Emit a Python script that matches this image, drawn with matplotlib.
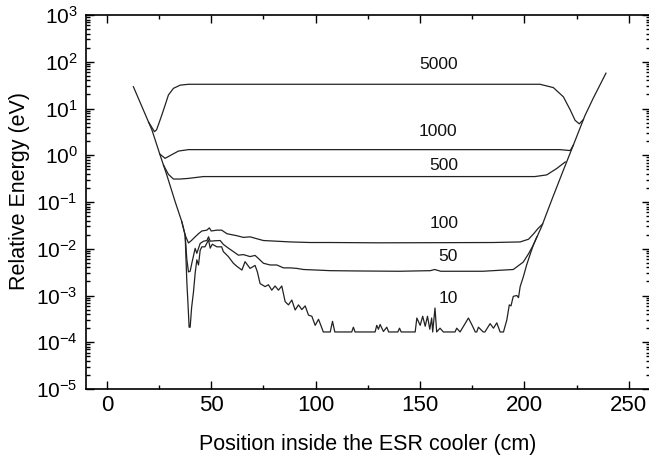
import matplotlib
matplotlib.use("Agg")
import matplotlib.pyplot as plt
from matplotlib.ticker import MultipleLocator, LogLocator, NullFormatter

plt.rcParams['font.family'] = ['Liberation Sans', 'DejaVu Sans']
plt.rcParams['mathtext.fontset'] = 'custom'
plt.rcParams['mathtext.rm'] = 'Liberation Sans'

# courbe 10 (avec l'enveloppe complete)
x10 = [12.7, 21.6, 25.5, 28.7, 32.7, 35.9, 37.5, 38.3, 39.0, 39.4, 39.9, 40.6, 41.5, 42.3,
       43.1, 43.9, 44.7, 45.5, 47.0, 48.7, 49.5, 50.5, 52.7, 55.0, 55.8, 58.2, 60.6, 62.3,
       64.7, 66.2, 68.6, 71.0, 72.1, 73.4, 75.8, 77.4, 79.0, 80.6, 82.2, 83.8, 85.4, 87.0,
       88.6, 90.2, 91.8, 93.4, 95.0, 96.6, 98.2, 99.8, 101.4, 103.7, 107.0, 108.1, 109.2,
       117.3, 118.1, 118.9, 128.5, 129.3, 130.1, 130.9, 132.5, 134.1, 135.0, 139.4, 140.2,
       141.0, 147.7, 148.5, 150.1, 151.3, 152.5, 153.6, 154.7, 155.6, 156.1, 157.2, 158.0,
       159.6, 161.2, 166.8, 167.6, 169.2, 171.6, 173.2, 174.8, 176.5, 177.2, 178.0, 180.3,
       181.1, 183.6, 185.2, 186.8, 188.4, 190.0, 191.6, 192.8, 193.6, 194.7, 196.4, 197.2,
       198.0, 199.5, 201.1, 202.7, 204.3, 208.3, 213.1, 218.7, 223.5, 229.0, 233.0, 239.1]
y10 = [29.3, 3.47, 1.01, 0.38, 0.102, 0.038, 0.0196, 2.0e-3, 5.0e-4, 2.1e-4, 2.1e-4, 5.5e-4,
       1.2e-3, 3.0e-3, 5.8e-3, 4.5e-3, 9.3e-3, 0.011, 0.011, 0.0155, 0.0103, 0.0125, 0.011,
       0.011, 8.7e-3, 6.8e-3, 4.9e-3, 4.2e-3, 3.5e-3, 5.3e-3, 3.8e-3, 4.4e-3, 3.2e-3, 1.8e-3,
       1.55e-3, 1.7e-3, 1.3e-3, 1.6e-3, 1.3e-3, 1.6e-3, 7.4e-4, 6.3e-4, 8.0e-4, 4.9e-4, 6.3e-4,
       5.0e-4, 6.0e-4, 3.8e-4, 3.6e-4, 2.3e-4, 3.1e-4, 1.66e-4, 1.66e-4, 2.8e-4, 1.66e-4,
       1.66e-4, 2.1e-4, 1.66e-4, 1.66e-4, 2.3e-4, 1.9e-4, 2.4e-4, 1.7e-4, 2.1e-4, 1.66e-4,
       1.66e-4, 2.0e-4, 1.66e-4, 1.66e-4, 3.3e-4, 2.3e-4, 3.6e-4, 2.2e-4, 3.6e-4, 1.9e-4,
       3.3e-4, 1.66e-4, 5.4e-4, 1.66e-4, 2.0e-4, 1.66e-4, 1.66e-4, 2.0e-4, 1.66e-4, 2.5e-4,
       3.3e-4, 2.4e-4, 1.66e-4, 1.66e-4, 2.1e-4, 1.66e-4, 1.66e-4, 2.5e-4, 2.0e-4, 2.6e-4,
       1.66e-4, 1.66e-4, 3.0e-4, 6.3e-4, 6.0e-4, 9.6e-4, 1.0e-3, 9.0e-4, 1.55e-3, 2.5e-3,
       4.5e-3, 7.4e-3, 0.012, 0.030, 0.11, 0.48, 1.66, 7.0, 16.6, 57.0]

x50 = [37.5, 38.3, 39.1, 39.9, 40.7, 42.3, 43.1, 44.7, 46.3, 47.9, 48.7, 49.5, 51.5, 54.3,
       55.8, 58.2, 60.6, 63.0, 65.4, 68.6, 71.0, 72.6, 75.0, 78.2, 81.4, 84.6, 87.8, 91.0,
       94.2, 100.6, 107.0, 120.0, 140.0, 155.0, 157.0, 160.0, 180.0, 194.7, 199.5, 202.0,
       204.3, 206.0]
y50 = [0.0196, 6.0e-3, 3.2e-3, 3.3e-3, 4.9e-3, 0.0102, 8.0e-3, 0.013, 0.0145, 0.015, 0.018,
       0.0145, 0.0148, 0.015, 0.0124, 0.0103, 8.7e-3, 7.3e-3, 7.5e-3, 6.8e-3, 7.2e-3, 6.2e-3,
       4.9e-3, 4.5e-3, 4.5e-3, 3.9e-3, 3.9e-3, 3.8e-3, 3.6e-3, 3.5e-3, 3.4e-3, 3.35e-3,
       3.3e-3, 3.4e-3, 3.6e-3, 3.3e-3, 3.3e-3, 3.6e-3, 5.2e-3, 7.8e-3, 0.012, 0.018]

x100 = [35.9, 37.5, 39.1, 40.5, 42.3, 43.9, 45.5, 47.9, 49.1, 50.0, 52.7, 55.0, 57.5, 59.8,
        62.3, 65.4, 68.6, 71.8, 75.0, 81.4, 87.8, 97.4, 107.0, 130.0, 160.0, 185.0, 198.0,
        202.0, 204.5, 206.5, 208.8]
y100 = [0.038, 0.0196, 0.0133, 0.015, 0.018, 0.021, 0.024, 0.025, 0.028, 0.024, 0.025, 0.025,
        0.021, 0.020, 0.019, 0.0175, 0.018, 0.0164, 0.015, 0.0145, 0.014, 0.0136, 0.0136,
        0.0134, 0.0135, 0.0136, 0.014, 0.016, 0.021, 0.027, 0.034]

x500 = [27.1, 29.5, 31.9, 35.1, 39.1, 46.2, 80.0, 150.0, 205.0, 210.7, 215.5, 219.6]
y500 = [0.62, 0.39, 0.31, 0.31, 0.32, 0.35, 0.35, 0.35, 0.35, 0.38, 0.52, 0.72]

x1000 = [25.5, 27.9, 31.1, 34.3, 39.1, 50.0, 150.0, 217.0, 222.0, 223.5]
y1000 = [1.05, 0.86, 1.03, 1.23, 1.32, 1.32, 1.32, 1.32, 1.26, 1.66]

x5000 = [20.0, 22.8, 23.8, 24.7, 26.3, 27.9, 29.5, 31.9, 35.1, 39.1, 50.0, 150.0, 207.5,
         213.9, 218.7, 222.0, 224.3, 226.3, 228.3]
y5000 = [5.1, 3.2, 3.5, 4.5, 7.2, 11.8, 19.5, 27.0, 31.6, 33.0, 33.0, 33.0, 33.0, 28.0,
         17.8, 9.3, 5.6, 4.7, 5.8]

etiquettes = ["5000", "1000", "500", "100", "50", "10"]
etiq_x = [158.8, 158.8, 161.4, 161.5, 163.6, 163.6]
etiq_y = [86.5, 3.27, 0.59, 0.035, 6.9e-3, 8.7e-4]

fig = plt.figure(figsize=(6.49, 4.62), dpi=100)
ax = fig.add_axes([0.1325, 0.158, 0.8684, 0.8095])

for xs, ys in [(x10, y10), (x50, y50), (x100, y100), (x500, y500), (x1000, y1000), (x5000, y5000)]:
    ax.plot(xs, ys, color='#222222', linewidth=0.9)

for t, tx, ty in zip(etiquettes, etiq_x, etiq_y):
    ax.text(tx, ty, t, fontsize=12.5, ha='center', va='center', color='#111111')

ax.set_yscale('log')
ax.set_xlim(-10, 260)
ax.set_ylim(1e-5, 1e3)
ax.xaxis.set_major_locator(MultipleLocator(50))
ax.xaxis.set_minor_locator(MultipleLocator(25))
ax.yaxis.set_major_locator(LogLocator(base=10, numticks=20))
ax.yaxis.set_minor_locator(LogLocator(base=10, subs=range(2, 10), numticks=20))
ax.yaxis.set_minor_formatter(NullFormatter())

ax.tick_params(which='both', direction='in', top=True, right=True, width=1.0)
ax.tick_params(axis='x', labelsize=16)
ax.tick_params(axis='y', labelsize=15)
ax.tick_params(which='major', length=5.5)
ax.tick_params(axis='x', which='major', pad=4)
ax.tick_params(axis='y', which='major', pad=6)
ax.tick_params(which='minor', length=3)
for s in ax.spines.values():
    s.set_linewidth(1.2)

ax.set_xlabel('Position inside the ESR cooler (cm)', fontsize=15.5)
ax.set_ylabel('Relative Energy (eV)', fontsize=15.5)
ax.xaxis.set_label_coords(0.5, -0.12)
ax.yaxis.set_label_coords(-0.10, 0.53)

fig.savefig('out.png', dpi=100)
